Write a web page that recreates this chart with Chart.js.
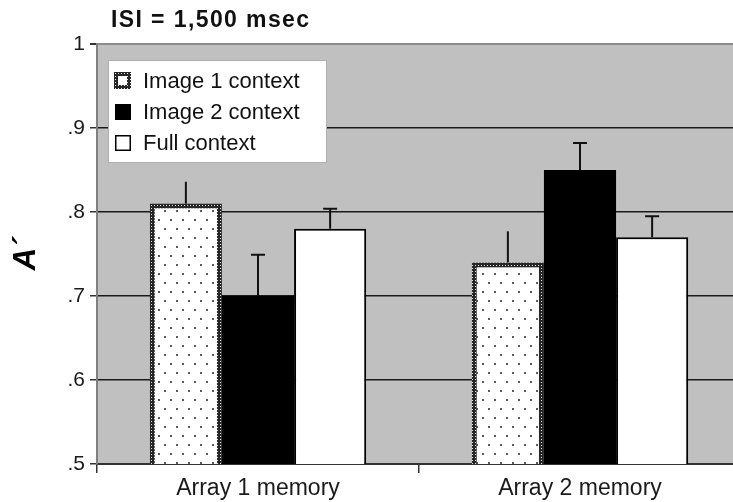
<!DOCTYPE html>
<html>
<head>
<meta charset="utf-8">
<script src="https://cdn.jsdelivr.net/npm/chart.js@4.4.1/dist/chart.umd.min.js"></script>
<style>
  html, body { margin: 0; padding: 0; background: #fff; overflow: hidden; }
  #wrap { width: 745px; height: 502px; }
</style>
</head>
<body>
<div id="wrap"><canvas id="myChart" width="745" height="502"></canvas></div>
<script>
const categories = ['Array 1 memory', 'Array 2 memory'];
const seriesNames = ['Image 1 context', 'Image 2 context', 'Full context'];
const image1Values = [0.81, 0.74];
const image2Values = [0.70, 0.85];
const fullValues = [0.78, 0.77];
// top end of each error bar
const image1ErrTop = [0.836, 0.777];
const image2ErrTop = [0.749, 0.882];
const fullErrTop = [0.804, 0.795];
const yTickLabels = ['.5', '.6', '.7', '.8', '.9', '1'];
const chartTitle = 'ISI = 1,500 msec';
const yTitle = 'A\u00b4';

const FONT = "'Liberation Sans', Arial, sans-serif";
const canvas = document.getElementById('myChart');
const ctx = canvas.getContext('2d');

// white with small grey dots (staggered)
function dotPattern() {
  const c = document.createElement('canvas');
  c.width = 12; c.height = 18;
  const g = c.getContext('2d');
  g.fillStyle = '#fff';
  g.fillRect(0, 0, 12, 18);
  g.fillStyle = '#5a5a5a';
  g.fillRect(2, 3, 2, 2);
  g.fillRect(8, 12, 2, 2);
  return ctx.createPattern(c, 'repeat');
}
// dark chain-like border
function checkerPattern() {
  const c = document.createElement('canvas');
  c.width = 3; c.height = 3;
  const g = c.getContext('2d');
  g.fillStyle = '#262626';
  g.fillRect(0, 0, 3, 3);
  g.fillStyle = '#e8e8e8';
  g.fillRect(1, 1, 1, 1);
  return ctx.createPattern(c, 'repeat');
}
const dots = dotPattern();
const checker = checkerPattern();

const errTops = [image1ErrTop, image2ErrTop, fullErrTop];
const hasCap = [false, true, true];

const plotBg = {
  id: 'plotBg',
  beforeDraw(chart) {
    const a = chart.chartArea, c = chart.ctx;
    c.save();
    c.fillStyle = '#c0c0c0';
    c.fillRect(a.left, a.top, a.right - a.left, a.bottom - a.top);
    c.restore();
  }
};

const errorBars = {
  id: 'errorBars',
  afterDatasetsDraw(chart) {
    const c = chart.ctx, ys = chart.scales.y;
    c.save();
    c.strokeStyle = '#111';
    c.lineWidth = 2;
    chart.data.datasets.forEach((ds, d) => {
      const meta = chart.getDatasetMeta(d);
      meta.data.forEach((bar, i) => {
        const yTop = ys.getPixelForValue(errTops[d][i]);
        c.beginPath();
        c.moveTo(bar.x, bar.y);
        c.lineTo(bar.x, yTop);
        if (hasCap[d]) {
          c.moveTo(bar.x - 7, yTop);
          c.lineTo(bar.x + 7, yTop);
        }
        c.stroke();
      });
    });
    c.restore();
  }
};

const titleAndLegend = {
  id: 'titleAndLegend',
  afterDraw(chart) {
    const c = chart.ctx;
    c.save();
    // title
    c.fillStyle = '#111';
    c.font = 'bold 23px ' + FONT;
    c.textBaseline = 'middle';
    c.textAlign = 'left';
    c.letterSpacing = '1.4px';
    c.fillText(chartTitle, 111, 21);
    c.letterSpacing = '0px';

    // legend box
    c.fillStyle = '#fff';
    c.fillRect(108, 60, 219, 103);
    c.strokeStyle = '#b0b0b0';
    c.lineWidth = 1;
    c.strokeRect(108.5, 60.5, 218, 102);

    const rows = [81, 112, 143];
    c.font = '22px ' + FONT;
    chart.data.datasets.forEach((ds, d) => {
      const y = rows[d];
      if (d === 0) {
        c.fillStyle = checker;
        c.fillRect(114, y - 9, 17, 17);
        c.fillStyle = '#fff';
        c.fillRect(118, y - 5, 9, 9);
      } else if (d === 1) {
        c.fillStyle = '#000';
        c.fillRect(115, y - 8, 16, 16);
      } else {
        c.fillStyle = '#fff';
        c.fillRect(115, y - 8, 16, 16);
        c.strokeStyle = '#000';
        c.lineWidth = 1.5;
        c.strokeRect(115.75, y - 7.25, 14.5, 14.5);
      }
      c.fillStyle = '#111';
      c.fillText(ds.label, 143, y + 1);
    });
    c.restore();
  }
};

new Chart(ctx, {
  type: 'bar',
  data: {
    labels: categories,
    datasets: [
      { label: seriesNames[0], data: image1Values, backgroundColor: dots, borderColor: checker, borderWidth: 5, borderSkipped: false },
      { label: seriesNames[1], data: image2Values, backgroundColor: '#000', borderColor: '#000', borderWidth: 0 },
      { label: seriesNames[2], data: fullValues, backgroundColor: '#fff', borderColor: '#000', borderWidth: 2, borderSkipped: false }
    ]
  },
  options: {
    responsive: false,
    animation: false,
    events: [],
    categoryPercentage: 0.672,
    barPercentage: 1,
    layout: { padding: { top: 44, right: 4, left: 0, bottom: 0 } },
    plugins: {
      legend: { display: false },
      title: { display: false },
      tooltip: { enabled: false }
    },
    scales: {
      x: {
        offset: true,
        grid: { offset: true, drawOnChartArea: false, drawTicks: true, tickLength: 9, color: '#333', lineWidth: 1.5 },
        border: { display: true, color: '#333', width: 2 },
        ticks: { font: { family: FONT, size: 23 }, color: '#1a1a1a', padding: 2 },
        afterFit: s => { s.height = 38; }
      },
      y: {
        min: 0.5,
        max: 1,
        ticks: {
          stepSize: 0.1,
          callback: (v, i) => yTickLabels[i],
          font: { family: FONT, size: 21 },
          color: '#1a1a1a',
          padding: 5
        },
        grid: {
          color: c => (c.tick && c.tick.value > 0.99 ? '#8c8c8c' : '#1a1a1a'),
          lineWidth: c => (c.tick && c.tick.value > 0.99 ? 2 : 1.5),
          tickColor: '#333',
          tickLength: 7
        },
        border: { color: '#808080', width: 2 },
        title: {
          display: true,
          text: yTitle,
          font: { family: FONT, size: 31, weight: 'bold', style: 'italic' },
          color: '#000',
          padding: { top: 8, bottom: 0 }
        },
        afterFit: s => { s.width = 97; }
      }
    }
  },
  plugins: [plotBg, errorBars, titleAndLegend]
});
</script>
</body>
</html>
